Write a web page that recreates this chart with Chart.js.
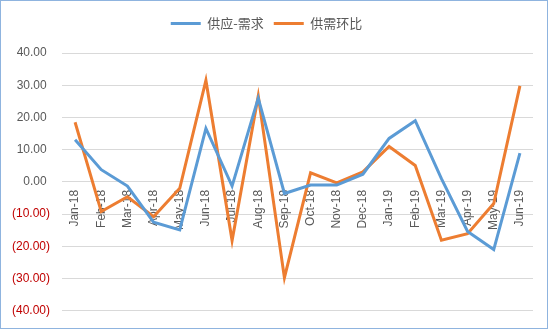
<!DOCTYPE html>
<html>
<head>
<meta charset="utf-8">
<script src="https://cdn.jsdelivr.net/npm/chart.js@4/dist/chart.umd.min.js"></script>
<style>
  html, body { margin: 0; padding: 0; background: #fff; }
  #wrap { position: relative; width: 550px; height: 330px; }
  #frame { position: absolute; left: 0; top: 0; width: 546px; height: 327px; border: 1px solid #8fb4df; pointer-events: none; }
</style>
</head>
<body>
<div id="wrap">
  <canvas id="canvas" width="550" height="330"></canvas>
  <div id="frame"></div>
</div>
<script>
  const months = ["Jan-18", "Feb-18", "Mar-18", "Apr-18", "May-18", "Jun-18", "Jul-18", "Aug-18", "Sep-18",
                  "Oct-18", "Nov-18", "Dec-18", "Jan-19", "Feb-19", "Mar-19", "Apr-19", "May-19", "Jun-19"];
  const supplyGap = [13.1, 3.8, -1.3, -12.5, -14.9, 16.6, -1.3, 26.0, -3.6,
                     -1.0, -1.0, 2.4, 13.5, 19.0, 1.0, -15.4, -21.0, 8.9];
  const momChange = [18.5, -9.2, -4.6, -10.8, -2.0, 31.5, -18.2, 26.7, -29.7,
                     2.8, -0.3, 3.1, 11.0, 5.1, -18.1, -16.1, -6.7, 29.8];
  const seriesNames = ["供应-需求", "供需环比"];
  const yMin = -40, yMax = 40, yStep = 10;

  const blue = "#5b9bd5";
  const orange = "#ed7d31";
  const grey = "#595959";

  const fmt = v => {
    const s = Math.abs(v).toFixed(2);
    return v < 0 ? "(" + s + ")" : s + " ";
  };

  // extra room between the legend and the plot
  const legendGap = {
    id: "legendGap",
    beforeUpdate(chart) {
      const lg = chart.legend;
      if (lg && !lg._gapped) {
        const fit = lg.fit;
        lg.fit = function () { fit.call(this); this.height += 13; };
        lg._gapped = true;
      }
    }
  };

  const ctx = document.getElementById("canvas").getContext("2d");
  new Chart(ctx, {
    type: "line",
    data: {
      labels: months,
      datasets: [
        { label: seriesNames[0], data: supplyGap, borderColor: blue, backgroundColor: blue,
          borderWidth: 3, pointRadius: 0, tension: 0 },
        { label: seriesNames[1], data: momChange, borderColor: orange, backgroundColor: orange,
          borderWidth: 3, pointRadius: 0, tension: 0 }
      ]
    },
    plugins: [legendGap],
    options: {
      responsive: false,
      animation: false,
      layout: { padding: { top: 7, right: 17, bottom: 16, left: 0 } },
      plugins: {
        tooltip: { enabled: false },
        legend: {
          position: "top",
          labels: {
            boxWidth: 30,
            boxHeight: 3,
            padding: 10,
            color: grey,
            font: { family: "'Noto Sans CJK SC', 'Liberation Sans'", size: 13 },
            generateLabels: chart => Chart.defaults.plugins.legend.labels.generateLabels(chart)
              .map(item => ({ ...item, lineWidth: 0 }))
          }
        }
      },
      scales: {
        x: {
          position: { y: 0 },
          offset: true,
          grid: { display: false, drawTicks: false },
          border: { display: false },
          ticks: {
            color: grey,
            font: { family: "'Liberation Sans'", size: 12 },
            minRotation: 90,
            maxRotation: 90,
            padding: 8,
            autoSkip: false
          }
        },
        y: {
          min: yMin,
          max: yMax,
          afterFit: scale => { scale.width = 62; },
          grid: { color: "#d9d9d9", drawTicks: false },
          border: { display: false },
          ticks: {
            stepSize: yStep,
            padding: 12,
            font: { family: "'Liberation Sans'", size: 12 },
            color: c => c.tick && c.tick.value < 0 ? "#c00000" : grey,
            callback: v => fmt(v)
          }
        }
      }
    }
  });
</script>
</body>
</html>
